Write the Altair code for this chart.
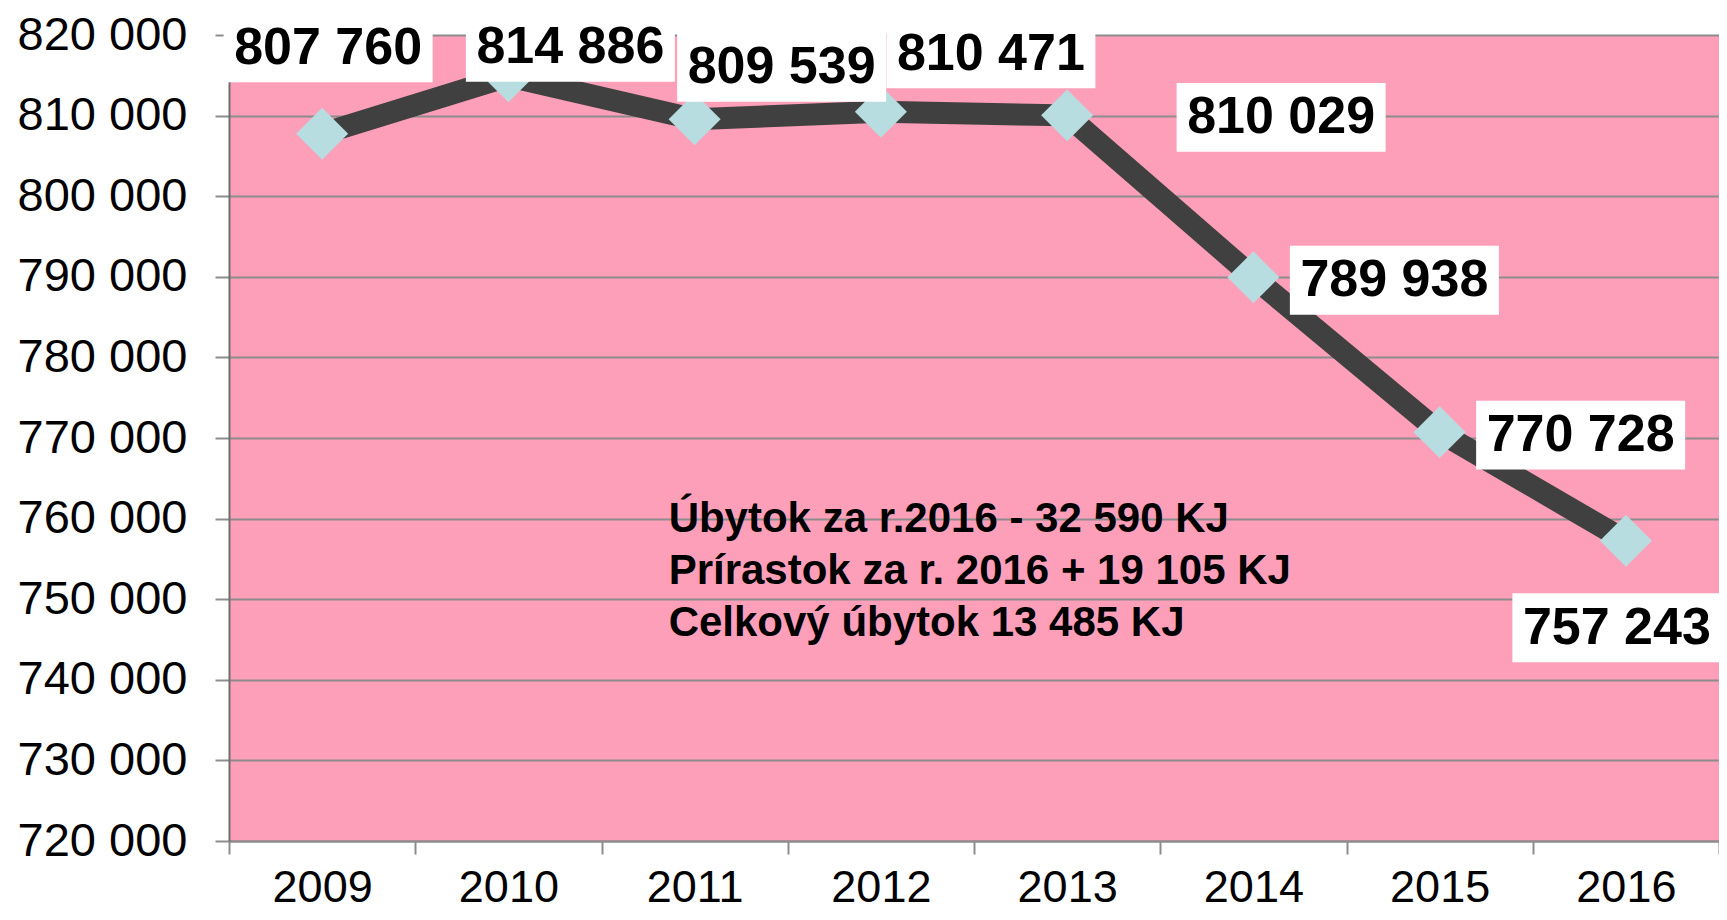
import altair as alt
import pandas as pd

# ---- data ----
years = ["2009", "2010", "2011", "2012", "2013", "2014", "2015", "2016"]
values = [807760, 814886, 809539, 810471, 810029, 789938, 770728, 757243]
y_ticks = [720000, 730000, 740000, 750000, 760000, 770000, 780000, 790000, 800000, 810000, 820000]
annotation_lines = [
    "Úbytok za r.2016 - 32 590 KJ",
    "Prírastok za r. 2016 + 19 105 KJ",
    "Celkový úbytok 13 485 KJ",
]
annotation_year = ["2011"]
annotation_value = [760000]

# ---- label placement (pixel offsets from each point) ----
label_dx = [6, 62, 87, 110, 214, 141, 141, -9]
label_dy = [-86, -29, -52, -58, 2, 3, 3, 87]

FONT = "Liberation Sans"
PINK = "#FE9FBA"
GRID = "#8C8C8C"

df = pd.DataFrame({"year": years, "value": values})
ann = pd.DataFrame({"year": annotation_year, "value": annotation_value})

x_enc = alt.X(
    "year:O",
    scale=alt.Scale(domain=years, paddingInner=0, paddingOuter=0),
    axis=alt.Axis(
        title=None, labelAngle=0, labelFont=FONT, labelFontSize=45, labelColor="black",
        labelPadding=11, tickSize=13, tickColor="#8C8C8C", tickWidth=2, tickBand="extent",
        domainColor="#8C8C8C", domainWidth=2, grid=False, labelBaseline="top",
    ),
)
y_enc = alt.Y(
    "value:Q",
    scale=alt.Scale(domain=[720000, 820000], nice=False, zero=False),
    axis=alt.Axis(
        title=None, values=y_ticks, labelFont=FONT, labelFontSize=47, labelColor="black",
        labelPadding=28, tickSize=14, tickColor="#8C8C8C", tickWidth=2,
        domainColor="#6E6E6E", domainWidth=2, grid=True, gridColor=GRID, gridWidth=2,
        labelExpr="replace(format(datum.value, ','), ',', ' ')",
    ),
)

base = alt.Chart(df).encode(x=x_enc, y=y_enc)

line = base.mark_line(color="#404040", strokeWidth=22)
points = base.mark_point(shape="diamond", filled=True, size=2700, color="#B7DDE0", opacity=1, strokeWidth=0)

BOX = "M-1,-0.33L1,-0.33L1,0.33L-1,0.33Z"
layers = [line, points]
labels = []
for i, yr in enumerate(years):
    sub = base.transform_filter(alt.datum.year == yr)
    layers.append(
        sub.mark_point(shape=BOX, filled=True, color="white", opacity=1, strokeWidth=0,
                       size=209 * 209, xOffset=label_dx[i], yOffset=label_dy[i])
    )
    labels.append(
        sub.transform_calculate(lbl="replace(format(datum.value, ','), ',', ' ')")
        .mark_text(font=FONT, fontSize=52, fontWeight="bold", color="black",
                   align="center", baseline="middle", dx=label_dx[i], dy=label_dy[i])
        .encode(text="lbl:N")
    )
layers += labels

annotation = alt.Chart(ann).mark_text(
    font=FONT, fontSize=42, fontWeight="bold", color="black", align="left",
    baseline="middle", lineHeight=52, dx=-26,
    text=annotation_lines,
).encode(x=alt.X("year:O"), y=alt.Y("value:Q"))
layers.append(annotation)

chart = (
    alt.layer(*layers)
    .properties(
        width=1490, height=806,
        autosize=alt.AutoSizeParams(type="none"),
        padding={"left": 221, "top": 27, "right": 0, "bottom": 70},
        background="white",
    )
    .configure_view(fill=PINK, strokeWidth=0)
)

chart.save("out.html", embed_options={"renderer": "svg", "actions": False})
